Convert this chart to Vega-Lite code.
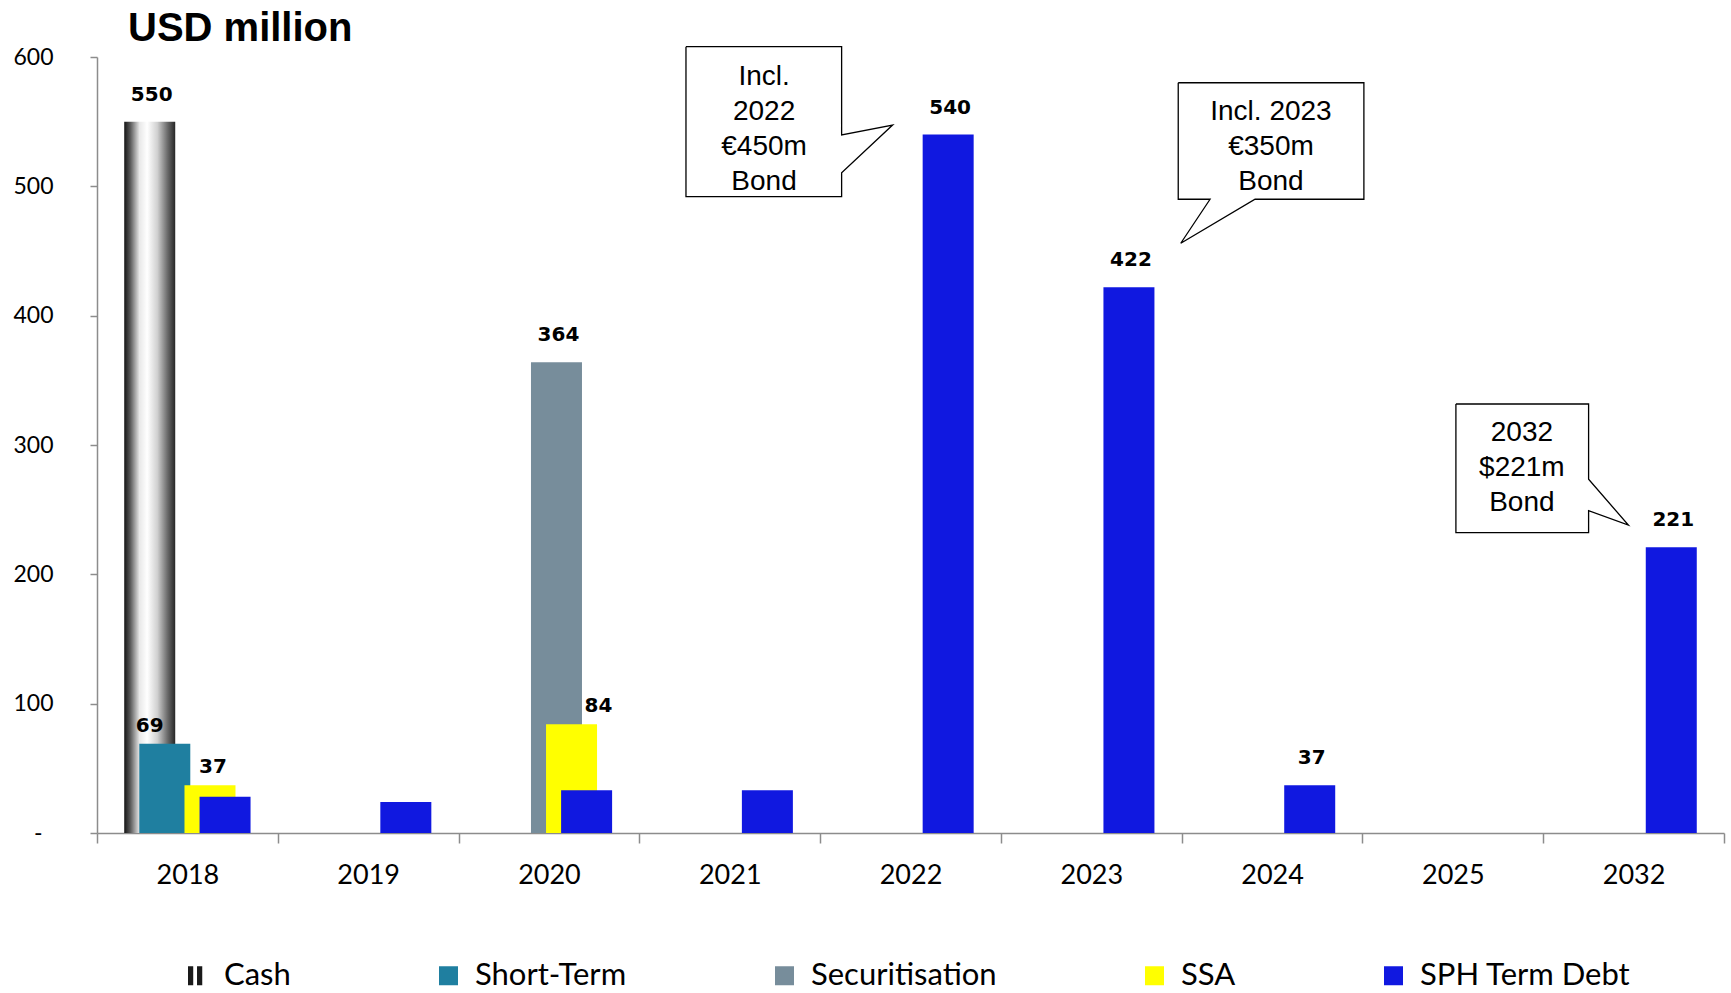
{
  "$schema": "https://vega.github.io/schema/vega-lite/v6.json",
  "width": 1627,
  "height": 776,
  "autosize": {"type": "none"},
  "padding": {"left": 97, "top": 57, "right": 7, "bottom": 160},
  "background": "white",
  "title": {"text": "USD million", "anchor": "start", "frame": "group", "font": "Liberation Sans", "fontSize": 40, "fontWeight": "bold", "color": "black", "dx": 31, "offset": -5},
  "datasets": {
    "bars": [
      {"year": "2018", "series": "Cash", "value": 550, "lbl": "550"},
      {"year": "2018", "series": "Short-Term", "value": 69, "lbl": "69"},
      {"year": "2018", "series": "SSA", "value": 37, "lbl": "37"},
      {"year": "2018", "series": "SPH Term Debt", "value": 28, "lbl": ""},
      {"year": "2019", "series": "SPH Term Debt", "value": 24, "lbl": ""},
      {"year": "2020", "series": "Securitisation", "value": 364, "lbl": "364"},
      {"year": "2020", "series": "SSA", "value": 84, "lbl": "84"},
      {"year": "2020", "series": "SPH Term Debt", "value": 33, "lbl": ""},
      {"year": "2021", "series": "SPH Term Debt", "value": 33, "lbl": ""},
      {"year": "2022", "series": "SPH Term Debt", "value": 540, "lbl": "540"},
      {"year": "2023", "series": "SPH Term Debt", "value": 422, "lbl": "422"},
      {"year": "2024", "series": "SPH Term Debt", "value": 37, "lbl": "37"},
      {"year": "2032", "series": "SPH Term Debt", "value": 221, "lbl": "221"}
    ],
    "outline": [
      {"id": 1, "o": 1, "xu": 3.258, "yv": 608.0},
      {"id": 1, "o": 2, "xu": 4.119, "yv": 608.0},
      {"id": 1, "o": 3, "xu": 4.119, "yv": 539.7},
      {"id": 1, "o": 4, "xu": 4.401, "yv": 547.4},
      {"id": 1, "o": 5, "xu": 4.119, "yv": 510.5},
      {"id": 1, "o": 6, "xu": 4.119, "yv": 492.0},
      {"id": 1, "o": 7, "xu": 3.258, "yv": 492.0},
      {"id": 1, "o": 8, "xu": 3.258, "yv": 608.0},
      {"id": 2, "o": 1, "xu": 5.981, "yv": 580.1},
      {"id": 2, "o": 2, "xu": 7.008, "yv": 580.1},
      {"id": 2, "o": 3, "xu": 7.008, "yv": 490.0},
      {"id": 2, "o": 4, "xu": 6.406, "yv": 490.0},
      {"id": 2, "o": 5, "xu": 5.995, "yv": 456.0},
      {"id": 2, "o": 6, "xu": 6.157, "yv": 490.0},
      {"id": 2, "o": 7, "xu": 5.981, "yv": 490.0},
      {"id": 2, "o": 8, "xu": 5.981, "yv": 580.1},
      {"id": 3, "o": 1, "xu": 7.517, "yv": 331.7},
      {"id": 3, "o": 2, "xu": 8.251, "yv": 331.7},
      {"id": 3, "o": 3, "xu": 8.251, "yv": 273.5},
      {"id": 3, "o": 4, "xu": 8.471, "yv": 238.1},
      {"id": 3, "o": 5, "xu": 8.251, "yv": 249.2},
      {"id": 3, "o": 6, "xu": 8.251, "yv": 232.2},
      {"id": 3, "o": 7, "xu": 7.517, "yv": 232.2},
      {"id": 3, "o": 8, "xu": 7.517, "yv": 331.7}
    ],
    "callouts": [
      {"id": 1, "xu": 3.690, "yv": 584.8, "t": "Incl.\n2022\n€450m\nBond"},
      {"id": 2, "xu": 6.494, "yv": 557.6, "t": "Incl. 2023\n€350m\nBond"},
      {"id": 3, "xu": 7.882, "yv": 309.1, "t": "2032\n$221m\nBond"}
    ]
  },
  "config": {
    "view": {"stroke": null},
    "axis": {"domainColor": "#8c8c8c", "tickColor": "#8c8c8c", "grid": false, "domainWidth": 1.5, "tickWidth": 1.5, "labelColor": "black", "title": null}
  },
  "layer": [
    {
      "data": {"name": "bars"},
      "encoding": {
        "x": {"field": "year", "type": "nominal",
          "scale": {"domain": ["2018", "2019", "2020", "2021", "2022", "2023", "2024", "2025", "2032"], "paddingInner": 0, "paddingOuter": 0},
          "axis": {"tickBand": "extent", "tickSize": 10, "labelPadding": 19, "labelFont": "Lato", "labelFontSize": 27, "labelAngle": 0}},
        "xOffset": {"field": "series", "type": "nominal",
          "scale": {"domain": ["p1", "p2", "Cash", "Short-Term", "gap", "Securitisation", "SSA", "SPH Term Debt", "p3", "p4"], "paddingInner": 0, "paddingOuter": 1}},
        "y": {"field": "value", "type": "quantitative", "stack": null,
          "scale": {"domain": [0, 600], "nice": false},
          "axis": {"values": [0, 100, 200, 300, 400, 500, 600], "tickSize": 7,
            "labelPadding": {"condition": {"test": "datum.value == 0", "value": 48}, "value": 37},
            "labelFont": "Lato", "labelFontSize": 23, "labelExpr": "datum.value == 0 ? '-' : datum.label"}}
      },
      "layer": [
        {
          "transform": [{"filter": "datum.series === 'Cash'"}],
          "mark": {"type": "bar", "width": 51,
            "color": {"gradient": "linear", "x1": 0, "y1": 0, "x2": 1, "y2": 0,
              "stops": [
                {"offset": 0, "color": "#141414"},
                {"offset": 0.12, "color": "#5a5a5a"},
                {"offset": 0.3, "color": "#e8e8e8"},
                {"offset": 0.45, "color": "#ffffff"},
                {"offset": 0.65, "color": "#d0d0d0"},
                {"offset": 0.85, "color": "#6a6a6a"},
                {"offset": 1, "color": "#262626"}
              ]}}
        },
        {
          "transform": [{"filter": "datum.series !== 'Cash'"}],
          "mark": {"type": "bar", "width": 51},
          "encoding": {
            "color": {"field": "series", "type": "nominal",
              "scale": {"domain": ["Cash", "Short-Term", "Securitisation", "SSA", "SPH Term Debt"],
                        "range": ["#1a1a1a", "#1f7fa0", "#778d9b", "#ffff00", "#1018e0"]},
              "legend": {"orient": "none", "legendX": 85, "legendY": 903, "direction": "horizontal", "title": null,
                "symbolSize": 361, "symbolStrokeWidth": 0, "labelFont": "Lato", "labelFontSize": 31,
                "labelColor": "black", "labelOffset": 11, "columnPadding": 142, "labelLimit": 400, "padding": 0}}
          }
        },
        {
          "mark": {"type": "point", "filled": true, "size": 0, "opacity": 1},
          "encoding": {
            "color": {"field": "series", "type": "nominal"},
            "shape": {"field": "series", "type": "nominal",
              "scale": {"domain": ["Cash", "Short-Term", "Securitisation", "SSA", "SPH Term Debt"],
                        "range": ["M-1,-1H-0.45V1H-1Z M-0.05,-1H0.5V1H-0.05Z", "square", "square", "square", "square"]},
              "legend": {"orient": "none", "legendX": 85, "legendY": 903, "direction": "horizontal", "title": null,
                "symbolSize": 361, "symbolStrokeWidth": 0, "labelFont": "Lato", "labelFontSize": 31,
                "labelColor": "black", "labelOffset": 11, "columnPadding": 142, "labelLimit": 400, "padding": 0}}
          }
        },
        {
          "transform": [{"filter": "datum.lbl != '' && (datum.series === 'Cash' || datum.series === 'Securitisation' || datum.series === 'SPH Term Debt')"}],
          "mark": {"type": "text", "font": "DejaVu Sans", "fontWeight": "bold", "fontSize": 20, "baseline": "middle", "dy": -27, "dx": 2, "color": "black"},
          "encoding": {"text": {"field": "lbl"}}
        },
        {
          "transform": [{"filter": "datum.series === 'Short-Term'"}],
          "mark": {"type": "text", "font": "DejaVu Sans", "fontWeight": "bold", "fontSize": 20, "baseline": "middle", "dy": -18, "dx": -15, "color": "black"},
          "encoding": {"text": {"field": "lbl"}}
        },
        {
          "transform": [{"filter": "datum.series === 'SSA' && datum.year === '2018'"}],
          "mark": {"type": "text", "font": "DejaVu Sans", "fontWeight": "bold", "fontSize": 20, "baseline": "middle", "dy": -18, "dx": 3, "color": "black"},
          "encoding": {"text": {"field": "lbl"}}
        },
        {
          "transform": [{"filter": "datum.series === 'SSA' && datum.year === '2020'"}],
          "mark": {"type": "text", "font": "DejaVu Sans", "fontWeight": "bold", "fontSize": 20, "baseline": "middle", "dy": -18, "dx": 27, "color": "black"},
          "encoding": {"text": {"field": "lbl"}}
        }
      ]
    },
    {
      "layer": [
        {
          "data": {"name": "outline"},
          "mark": {"type": "line", "color": "black", "strokeWidth": 1.3},
          "encoding": {
            "x": {"field": "xu", "type": "quantitative", "scale": {"domain": [0, 9], "nice": false, "zero": false}, "axis": null},
            "y": {"field": "yv", "type": "quantitative", "scale": {"domain": [0, 600], "nice": false}, "axis": null},
            "detail": {"field": "id"},
            "order": {"field": "o"}
          }
        },
        {
          "data": {"name": "callouts"},
          "mark": {"type": "text", "font": "Liberation Sans", "fontSize": 28, "lineBreak": "\n", "lineHeight": 35, "align": "center", "baseline": "middle", "color": "black"},
          "encoding": {
            "x": {"field": "xu", "type": "quantitative", "scale": {"domain": [0, 9], "nice": false, "zero": false}, "axis": null},
            "y": {"field": "yv", "type": "quantitative", "scale": {"domain": [0, 600], "nice": false}, "axis": null},
            "text": {"field": "t"}
          }
        }
      ]
    }
  ],
  "resolve": {"scale": {"x": "independent", "y": "independent"}, "axis": {"x": "independent", "y": "independent"}}
}
